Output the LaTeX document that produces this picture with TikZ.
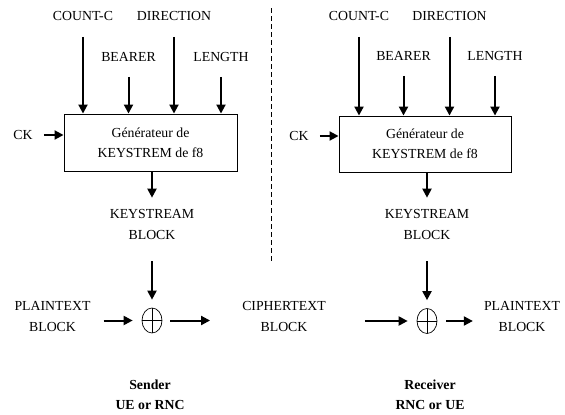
\documentclass[tikz,border=0pt]{standalone}
\usepackage{fontspec}
\setmainfont{Liberation Serif}
\usetikzlibrary{shapes.geometric, arrows.meta, positioning, calc}
\tikzset{
  lbl/.style={inner sep=1pt, align=center, font=\fontsize{13.8}{21}\selectfont},
  sidelbl/.style={lbl, font=\fontsize{13.8}{20}\selectfont\bfseries},
  genbox/.style={rectangle, draw, line width=0.9pt, minimum width=173pt, minimum height=57pt, align=center, font=\fontsize{13.8}{20}\selectfont},
  xorop/.style={ellipse, draw, line width=0.7pt, minimum width=20pt, minimum height=25pt, inner sep=0pt,
    path picture={\draw[line width=0.7pt] (path picture bounding box.north) -- (path picture bounding box.south)
      (path picture bounding box.west) -- (path picture bounding box.east);}},
  myarrow/.style={-{Triangle[length=9pt, width=9pt]}, line width=2pt},
  sepline/.style={line width=0.7pt, dash pattern=on 5pt off 3pt},
}

\begin{document}
\begin{tikzpicture}[x=1pt, y=-1pt]
  \useasboundingbox (0,0) rectangle (565,415);

  % sender side
  \node[genbox] (gen1) at (150.5,142.5) {G\'en\'erateur de\\KEYSTREM de f8};
  \node[lbl] (count1) at (83,16) {COUNT-C};
  \node[lbl] (dir1) at (174,16) {DIRECTION};
  \node[lbl] (bearer1) at (128.5,57) {BEARER};
  \node[lbl] (len1) at (221,57) {LENGTH};
  \node[lbl] (ck1) at (23,135) {CK};
  \node[lbl] (ks1) at (152,224) {KEYSTREAM\\BLOCK};
  \node[xorop] (xor1) at (152,320.5) {};
  \node[lbl] (plain1) at (52.5,316.5) {PLAINTEXT\\BLOCK};
  \node[lbl] (cipher) at (284,316.5) {CIPHERTEXT\\BLOCK};
  \node[sidelbl] (sender) at (150,395) {Sender\\UE or RNC};

  \draw[myarrow, shorten <=15pt] (count1.south) -- (count1.south |- gen1.north);
  \draw[myarrow, shorten <=15pt] (dir1.south) -- (dir1.south |- gen1.north);
  \draw[myarrow, shorten <=14pt] (bearer1.south) -- (bearer1.south |- gen1.north);
  \draw[myarrow, shorten <=14pt] (len1.south) -- (len1.south |- gen1.north);
  \draw[myarrow, shorten <=10pt] (ck1.east) -- (ck1.east -| gen1.west);
  \draw[myarrow, shorten >=10pt] (gen1.south -| ks1) -- (ks1.north);
  \draw[myarrow, shorten <=21pt, shorten >=8pt] (ks1.south) -- (xor1.north);
  \draw[myarrow, shorten <=12pt, shorten >=9pt] (plain1.east |- xor1) -- (xor1.west);
  \draw[myarrow, shorten <=8pt, shorten >=31pt] (xor1.east) -- (cipher.west |- xor1);

  % separation
  \coordinate (septop) at (271,8);
  \coordinate (sepbot) at (271,263);
  \draw[sepline] (septop) -- (sepbot);

  % receiver side
  \node[genbox, minimum width=172pt, minimum height=56pt] (gen2) at (425,144) {G\'en\'erateur de\\KEYSTREM de f8};
  \node[lbl] (count2) at (359,16) {COUNT-C};
  \node[lbl] (dir2) at (449.5,16) {DIRECTION};
  \node[lbl] (bearer2) at (403.5,56) {BEARER};
  \node[lbl] (len2) at (495,56) {LENGTH};
  \node[lbl] (ck2) at (299,136) {CK};
  \node[lbl] (ks2) at (427,224) {KEYSTREAM\\BLOCK};
  \node[xorop] (xor2) at (427,321) {};
  \node[lbl] (plain2) at (522,316.5) {PLAINTEXT\\BLOCK};
  \node[sidelbl] (receiver) at (430,395) {Receiver\\RNC or UE};

  \draw[myarrow, shorten <=15pt] (count2.south) -- (count2.south |- gen2.north);
  \draw[myarrow, shorten <=15pt] (dir2.south) -- (dir2.south |- gen2.north);
  \draw[myarrow, shorten <=14pt] (bearer2.south) -- (bearer2.south |- gen2.north);
  \draw[myarrow, shorten <=14pt] (len2.south) -- (len2.south |- gen2.north);
  \draw[myarrow, shorten <=10pt] (ck2.east) -- (ck2.east -| gen2.west);
  \draw[myarrow, shorten >=10pt] (gen2.south -| ks2) -- (ks2.north);
  \draw[myarrow, shorten <=21pt, shorten >=8pt] (ks2.south) -- (xor2.north);
  \draw[myarrow, shorten <=38pt, shorten >=9pt] (cipher.east |- xor2) -- (xor2.west);
  \draw[myarrow, shorten <=9pt, shorten >=10pt] (xor2.east) -- (plain2.west |- xor2);
\end{tikzpicture}
\end{document}
